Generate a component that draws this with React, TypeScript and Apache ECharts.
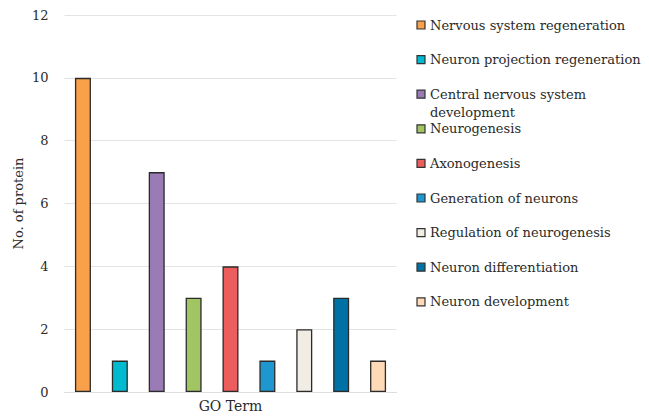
import React, { useEffect, useRef } from "react";
import * as echarts from "echarts";

const categories = [
  "Nervous system regeneration",
  "Neuron projection regeneration",
  "Central nervous system\ndevelopment",
  "Neurogenesis",
  "Axonogenesis",
  "Generation of neurons",
  "Regulation of neurogenesis",
  "Neuron differentiation",
  "Neuron development",
];
const values = [10, 1, 7, 3, 4, 1, 2, 3, 1];
const colors = [
  "#F9A04A",
  "#00BAD0",
  "#9A7BB6",
  "#A2C564",
  "#EC5E5E",
  "#1E96CF",
  "#F2EDE4",
  "#0071A4",
  "#FFDAB6",
];

const FONT = "'DejaVu Serif', 'Liberation Serif', serif";

export default function App() {
  const ref = useRef<HTMLDivElement>(null);
  useEffect(() => {
    if (!ref.current) return;
    const chart = echarts.init(ref.current, undefined, { renderer: "svg" });
    const legendX = 417;
    const legendY0 = 25;
    const legendStep = 34.6;
    const graphics: any[] = [];
    categories.forEach((c, i) => {
      const cy = legendY0 + i * legendStep;
      graphics.push({
        type: "rect",
        shape: { x: legendX, y: cy - 4, width: 8, height: 8 },
        style: { fill: colors[i], stroke: "#333", lineWidth: 1.2 },
      });
      graphics.push({
        type: "text",
        x: 430,
        y: cy - 9,
        style: {
          text: c,
          fill: "#2a2a2a",
          font: `13px ${FONT}`,
          lineHeight: 18,
          verticalAlign: "top",
          align: "left",
        },
      });
    });
    chart.setOption({
      animation: false,
      textStyle: { fontFamily: FONT },
      grid: {
        left: 64.5,
        right: 252.5,
        top: 15,
        bottom: 24,
        containLabel: false,
        outerBoundsMode: "none",
      },
      xAxis: {
        type: "category",
        data: categories,
        name: "GO Term",
        nameLocation: "middle",
        nameGap: 7,
        nameTextStyle: { fontSize: 14, color: "#2a2a2a", fontFamily: FONT },
        axisLabel: { show: false },
        axisTick: { show: false },
        axisLine: { show: true, lineStyle: { color: "#DDDDDD", width: 1 } },
      },
      yAxis: {
        type: "value",
        min: 0,
        max: 12,
        interval: 2,
        name: "No. of protein",
        nameLocation: "middle",
        nameGap: 40,
        nameMoveOverlap: false,
        nameTextStyle: { fontSize: 13, color: "#2a2a2a", fontFamily: FONT },
        axisLabel: { fontSize: 13, color: "#2a2a2a", fontFamily: FONT, margin: 16 },
        axisLine: { show: false },
        axisTick: { show: false },
        splitLine: { lineStyle: { color: "#E3E3E3", width: 1 } },
      },
      series: [
        {
          type: "bar",
          barWidth: 16,
          data: values.map((v, i) => ({
            value: v,
            itemStyle: { color: colors[i], borderColor: "#2b2b2b", borderWidth: 1.3 },
          })),
        },
      ],
      graphic: graphics,
    });
    return () => chart.dispose();
  }, []);
  return <div ref={ref} style={{ width: 649, height: 416, position: "absolute", left: 0, top: 0, background: "#fff" }} />;
}
